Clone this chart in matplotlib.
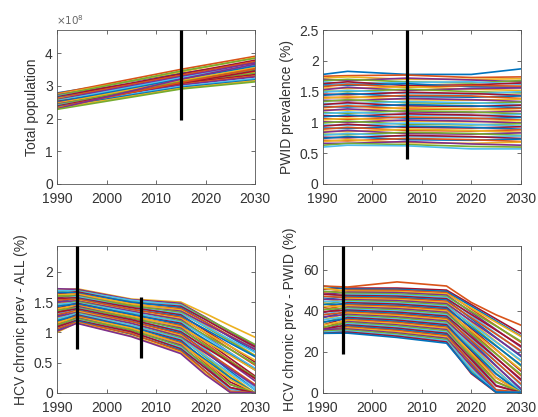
import matplotlib
matplotlib.use("Agg")
import matplotlib.pyplot as plt

plt.rcParams['font.family'] = ['Liberation Sans', 'DejaVu Sans']

# MATLAB default colour order
colors = ['#0072BD', '#D95319', '#EDB120', '#7E2F8E', '#77AC30', '#4DBEEE', '#A2142F']

# ---------------- Panel 1: total population (x 1e8) ----------------
pop_years = [1990, 2015, 2030]
pop_1e8 = [
    [2.78, 3.38, 3.70], [2.76, 3.50, 3.90], [2.74, 3.42, 3.86], [2.72, 3.30, 3.62],
    [2.70, 3.45, 3.84], [2.68, 3.25, 3.55], [2.66, 3.36, 3.78], [2.64, 3.20, 3.48],
    [2.62, 3.32, 3.74], [2.60, 3.15, 3.42], [2.58, 3.28, 3.70], [2.56, 3.12, 3.38],
    [2.54, 3.24, 3.64], [2.52, 3.08, 3.34], [2.50, 3.20, 3.60], [2.48, 3.05, 3.30],
    [2.46, 3.16, 3.55], [2.44, 3.02, 3.27], [2.42, 3.12, 3.50], [2.40, 2.98, 3.22],
    [2.38, 3.08, 3.45], [2.36, 2.95, 3.18], [2.34, 3.10, 3.52], [2.32, 2.92, 3.15],
    [2.30, 3.20, 3.66], [2.28, 2.90, 3.12],
]
pop_marker = (2015, 1.95, 4.7)

# ---------------- Panel 2: PWID prevalence (%) ----------------
pwid_years = [1990, 1995, 2007, 2020, 2030]
pwid_prev = [
    [1.78, 1.83, 1.78, 1.78, 1.87], [1.75, 1.76, 1.77, 1.73, 1.74], [1.72, 1.74, 1.70, 1.70, 1.71],
    [1.70, 1.68, 1.72, 1.69, 1.66], [1.68, 1.70, 1.66, 1.64, 1.68], [1.66, 1.63, 1.65, 1.66, 1.62],
    [1.63, 1.66, 1.60, 1.61, 1.64], [1.61, 1.60, 1.63, 1.58, 1.57], [1.58, 1.62, 1.57, 1.60, 1.59],
    [1.56, 1.55, 1.58, 1.54, 1.52], [1.53, 1.57, 1.52, 1.55, 1.56], [1.51, 1.50, 1.54, 1.50, 1.48],
    [1.49, 1.52, 1.47, 1.46, 1.50], [1.46, 1.45, 1.49, 1.47, 1.44], [1.44, 1.47, 1.42, 1.41, 1.43],
    [1.41, 1.40, 1.44, 1.43, 1.39], [1.39, 1.42, 1.37, 1.36, 1.38], [1.36, 1.35, 1.39, 1.37, 1.34],
    [1.34, 1.37, 1.32, 1.31, 1.33], [1.31, 1.30, 1.34, 1.32, 1.29], [1.29, 1.32, 1.27, 1.26, 1.28],
    [1.26, 1.25, 1.29, 1.27, 1.24], [1.24, 1.27, 1.22, 1.21, 1.23], [1.21, 1.20, 1.24, 1.22, 1.19],
    [1.19, 1.22, 1.17, 1.16, 1.18], [1.16, 1.15, 1.19, 1.17, 1.14], [1.14, 1.17, 1.12, 1.11, 1.13],
    [1.11, 1.10, 1.14, 1.12, 1.09], [1.09, 1.12, 1.07, 1.06, 1.08], [1.06, 1.05, 1.09, 1.07, 1.04],
    [1.04, 1.07, 1.02, 1.01, 1.03], [1.01, 1.00, 1.04, 1.02, 0.99], [0.99, 1.02, 0.97, 0.96, 0.98],
    [0.96, 0.95, 0.99, 0.97, 0.94], [0.94, 0.97, 0.92, 0.91, 0.93], [0.91, 0.90, 0.94, 0.92, 0.89],
    [0.89, 0.92, 0.87, 0.86, 0.88], [0.86, 0.85, 0.89, 0.87, 0.84], [0.84, 0.87, 0.82, 0.81, 0.83],
    [0.81, 0.80, 0.84, 0.82, 0.79], [0.79, 0.82, 0.77, 0.76, 0.78], [0.76, 0.75, 0.79, 0.77, 0.74],
    [0.74, 0.77, 0.72, 0.71, 0.73], [0.71, 0.70, 0.74, 0.72, 0.69], [0.69, 0.72, 0.67, 0.66, 0.68],
    [0.66, 0.66, 0.69, 0.65, 0.63], [0.63, 0.66, 0.64, 0.61, 0.60], [0.60, 0.63, 0.62, 0.57, 0.57],
]
pwid_marker = (2007, 0.4, 2.5)

# ---------------- Panel 3: HCV chronic prevalence - ALL (%) ----------------
hcv_all_years = [1990, 1994, 2005, 2015, 2020, 2025, 2030]
hcv_all = [
    [1.70, 1.72, 1.55, 1.50, 1.31, 1.11, 0.92], [1.72, 1.71, 1.54, 1.48, 1.25, 1.01, 0.78],
    [1.66, 1.69, 1.52, 1.46, 1.24, 1.02, 0.80], [1.69, 1.68, 1.53, 1.45, 1.21, 0.98, 0.74],
    [1.63, 1.67, 1.49, 1.43, 1.21, 0.98, 0.76], [1.66, 1.65, 1.50, 1.41, 1.17, 0.92, 0.68],
    [1.60, 1.64, 1.46, 1.39, 1.17, 0.94, 0.72], [1.62, 1.63, 1.47, 1.37, 1.12, 0.87, 0.62],
    [1.57, 1.61, 1.43, 1.35, 1.14, 0.93, 0.72], [1.60, 1.60, 1.44, 1.33, 1.09, 0.85, 0.61],
    [1.54, 1.59, 1.41, 1.31, 1.10, 0.88, 0.67], [1.56, 1.57, 1.41, 1.29, 1.03, 0.77, 0.51],
    [1.50, 1.56, 1.38, 1.27, 1.05, 0.82, 0.60], [1.53, 1.55, 1.38, 1.25, 0.99, 0.72, 0.46],
    [1.47, 1.53, 1.35, 1.23, 1.00, 0.77, 0.54], [1.50, 1.52, 1.35, 1.21, 0.94, 0.66, 0.39],
    [1.44, 1.51, 1.32, 1.19, 0.95, 0.72, 0.48], [1.46, 1.49, 1.33, 1.17, 0.92, 0.66, 0.41],
    [1.40, 1.48, 1.29, 1.15, 0.86, 0.57, 0.28], [1.43, 1.47, 1.30, 1.13, 0.88, 0.63, 0.38],
    [1.37, 1.45, 1.26, 1.11, 0.82, 0.53, 0.24], [1.39, 1.44, 1.27, 1.09, 0.85, 0.62, 0.38],
    [1.33, 1.43, 1.23, 1.07, 0.78, 0.49, 0.20], [1.36, 1.41, 1.24, 1.05, 0.79, 0.52, 0.26],
    [1.30, 1.40, 1.20, 1.03, 0.72, 0.40, 0.09], [1.33, 1.39, 1.21, 1.01, 0.75, 0.50, 0.24],
    [1.27, 1.37, 1.18, 0.99, 0.68, 0.36, 0.05], [1.29, 1.36, 1.18, 0.97, 0.69, 0.42, 0.14],
    [1.23, 1.35, 1.15, 0.95, 0.62, 0.30, 0.00], [1.26, 1.33, 1.15, 0.93, 0.66, 0.39, 0.12],
    [1.20, 1.32, 1.12, 0.91, 0.59, 0.26, 0.00], [1.22, 1.31, 1.12, 0.89, 0.61, 0.33, 0.05],
    [1.17, 1.29, 1.09, 0.87, 0.53, 0.18, 0.00], [1.19, 1.28, 1.09, 0.85, 0.55, 0.25, 0.00],
    [1.13, 1.27, 1.06, 0.83, 0.49, 0.14, 0.00], [1.16, 1.25, 1.07, 0.81, 0.52, 0.22, 0.00],
    [1.10, 1.24, 1.03, 0.79, 0.44, 0.09, 0.00], [1.12, 1.23, 1.04, 0.77, 0.46, 0.14, 0.00],
    [1.07, 1.21, 1.00, 0.75, 0.41, 0.06, 0.00], [1.09, 1.20, 1.01, 0.73, 0.41, 0.09, 0.00],
    [1.03, 1.19, 0.97, 0.71, 0.36, 0.01, 0.00], [1.06, 1.17, 0.98, 0.69, 0.36, 0.03, 0.00],
    [1.00, 1.16, 0.94, 0.67, 0.32, 0.01, 0.00], [1.02, 1.15, 0.93, 0.65, 0.30, 0.01, 0.00],
]
hcv_all_markers = [(1994, 0.73, 2.43), (2007, 0.58, 1.58)]

# ---------------- Panel 4: HCV chronic prevalence - PWID (%) ----------------
hcv_pwid_years = [1990, 1995, 2005, 2015, 2020, 2025, 2030]
hcv_pwid = [
    [50.5, 51.0, 51.0, 50.0, 43.0, 36.0, 29.0], [52.0, 50.5, 50.4, 49.4, 42.2, 35.0, 27.8],
    [49.0, 50.0, 49.9, 48.8, 40.8, 32.7, 24.7], [51.0, 49.5, 49.3, 48.2, 41.3, 34.4, 27.5],
    [48.0, 49.0, 48.8, 47.6, 39.2, 30.8, 22.4], [49.5, 48.5, 48.2, 47.0, 39.7, 32.5, 25.2],
    [46.5, 47.9, 47.7, 46.4, 37.6, 28.9, 20.1], [48.0, 47.4, 47.1, 45.8, 38.2, 30.5, 22.9],
    [45.5, 46.9, 46.5, 45.2, 36.1, 26.9, 17.8], [47.0, 46.4, 46.0, 44.6, 36.6, 28.6, 20.6],
    [44.0, 45.9, 45.4, 44.0, 34.5, 25.0, 15.5], [45.5, 45.4, 44.9, 43.4, 35.0, 26.7, 18.3],
    [43.0, 44.9, 44.3, 42.8, 32.9, 23.1, 13.2], [44.5, 44.4, 43.7, 42.2, 33.5, 24.7, 16.0],
    [41.5, 43.9, 43.2, 41.6, 31.3, 21.1, 10.8], [43.0, 43.3, 42.6, 41.0, 31.9, 22.8, 13.7],
    [40.5, 42.8, 42.1, 40.4, 29.8, 19.1, 8.5], [42.0, 42.3, 41.5, 39.8, 30.3, 20.9, 11.4],
    [39.0, 41.8, 41.0, 39.2, 28.2, 17.2, 6.2], [40.5, 41.3, 40.4, 38.6, 28.8, 18.9, 9.1],
    [38.0, 40.8, 39.8, 38.0, 26.6, 15.3, 3.9], [39.5, 40.3, 39.3, 37.4, 27.2, 17.0, 6.8],
    [36.5, 39.8, 38.7, 36.8, 25.1, 13.3, 1.6], [38.0, 39.3, 38.2, 36.2, 25.6, 15.1, 4.5],
    [35.5, 38.8, 37.6, 35.6, 23.5, 11.4, 0.3], [37.0, 38.2, 37.0, 35.0, 24.1, 13.1, 2.2],
    [34.0, 37.7, 36.5, 34.4, 21.9, 9.5, 0.3], [35.5, 37.2, 35.9, 33.8, 22.5, 11.1, 0.5],
    [33.0, 36.7, 35.4, 33.2, 20.4, 7.5, 0.2], [34.5, 36.2, 34.8, 32.6, 20.9, 9.2, 0.4],
    [31.5, 35.7, 34.3, 32.0, 18.8, 5.6, 0.2], [33.0, 35.2, 33.7, 31.4, 19.3, 7.3, 0.3],
    [30.5, 34.7, 33.1, 30.8, 17.2, 3.7, 0.2], [32.0, 34.2, 32.6, 30.2, 17.8, 5.3, 0.3],
    [29.5, 33.7, 32.0, 29.6, 15.7, 1.7, 0.2], [31.0, 33.1, 31.5, 29.0, 16.2, 3.4, 0.3],
    [29.0, 32.6, 30.9, 28.4, 14.1, 0.5, 0.2], [30.0, 32.1, 30.4, 27.8, 14.6, 1.5, 0.3],
    [29.5, 31.6, 29.8, 27.2, 12.5, 0.4, 0.2], [31.0, 31.1, 29.2, 26.6, 13.1, 0.6, 0.3],
    [30.0, 30.6, 28.7, 26.0, 10.9, 0.3, 0.2], [29.5, 30.1, 28.1, 25.4, 11.5, 0.5, 0.3],
    [29.0, 29.6, 27.6, 24.8, 9.4, 0.3, 0.2], [29.0, 29.1, 27.0, 24.2, 9.9, 0.4, 0.3],
    [52.0, 51.5, 54.0, 52.0, 44.0, 38.0, 33.0],
]
hcv_pwid_markers = [(1994, 19, 71.6)]

xticks = [1990, 2000, 2010, 2020, 2030]

fig = plt.figure(figsize=(5.38, 4.17), dpi=100)

panels = [
    dict(rect=[0.106, 0.5588, 0.368, 0.369], years=pop_years, data=pop_1e8, ylim=(0, 4.7),
         yticks=[0, 1, 2, 3, 4], ylabel='Total population', markers=[pop_marker], offset=0,
         yticklabels=['0', '1', '2', '3', '4']),
    dict(rect=[0.600, 0.5588, 0.368, 0.369], years=pwid_years, data=pwid_prev, ylim=(0, 2.5),
         yticks=[0, 0.5, 1, 1.5, 2, 2.5], ylabel='PWID prevalence (%)', markers=[pwid_marker], offset=0,
         yticklabels=['0', '0.5', '1', '1.5', '2', '2.5']),
    dict(rect=[0.106, 0.0576, 0.368, 0.3532], years=hcv_all_years, data=hcv_all, ylim=(0, 2.43),
         yticks=[0, 0.5, 1, 1.5, 2], ylabel='HCV chronic prev - ALL (%)', markers=hcv_all_markers, offset=2,
         yticklabels=['0', '0.5', '1', '1.5', '2']),
    dict(rect=[0.600, 0.0576, 0.368, 0.3532], years=hcv_pwid_years, data=hcv_pwid, ylim=(0, 71.6),
         yticks=[0, 20, 40, 60], ylabel='HCV chronic prev - PWID (%)', markers=hcv_pwid_markers, offset=6,
         yticklabels=['0', '20', '40', '60']),
]

tc = '#333333'
for p in panels:
    ax = fig.add_axes(p['rect'])
    for i, row in enumerate(p['data']):
        ax.plot(p['years'], row, color=colors[(i + p['offset']) % 7], lw=1.2, solid_joinstyle='round')
    for (x, y0, y1) in p['markers']:
        ax.plot([x, x], [y0, y1], color='black', lw=2.3, solid_capstyle='butt', zorder=10, clip_on=False)
    ax.set_xlim(1990, 2030)
    ax.set_ylim(*p['ylim'])
    ax.set_xticks(xticks)
    ax.set_xticklabels([str(t) for t in xticks])
    ax.set_yticks(p['yticks'])
    ax.set_yticklabels(p['yticklabels'])
    ax.tick_params(direction='in', top=True, right=True, length=3, width=0.5,
                   colors=tc, labelsize=10)
    ax.tick_params(axis='x', pad=6)
    ax.tick_params(axis='y', pad=3)
    for s in ax.spines.values():
        s.set_color('#555555')
        s.set_linewidth(0.6)
    ax.set_ylabel(p['ylabel'], fontsize=10, color=tc, labelpad=4)

fig.text(0.104, 0.935, r'$\times 10^{8}$', fontsize=7.5, color='#666666', ha='left', va='bottom')

fig.savefig('out.png', dpi=100)
